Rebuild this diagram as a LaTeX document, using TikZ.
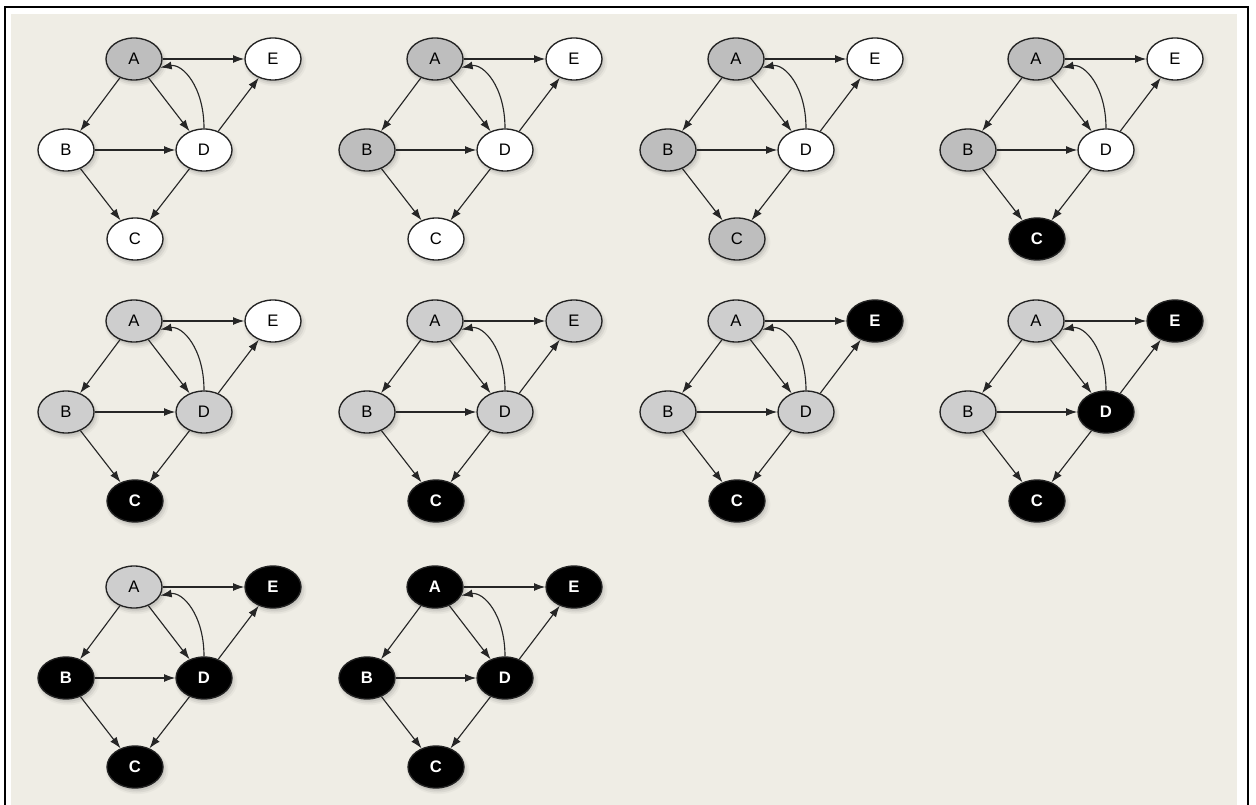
\documentclass[tikz,border=0pt]{standalone}
\usepackage{fontspec}
\setmainfont{Liberation Sans}
\usetikzlibrary{arrows.meta,shadows,shapes.geometric}

\definecolor{paper}{HTML}{EFEDE5}
\definecolor{rim}{HTML}{222222}
\definecolor{greyA}{HTML}{BEBEBE}
\definecolor{greyB}{HTML}{CECECE}

\tikzset{
  vtx/.style={ellipse, draw=rim, line width=1pt, minimum width=42pt,
    minimum height=31.5pt, inner sep=0pt, font=\fontsize{12.5}{14}\selectfont,
    drop shadow={shadow xshift=1.4pt, shadow yshift=-2.4pt, shadow scale=1.12, opacity=.07},
    drop shadow={shadow xshift=1.3pt, shadow yshift=-2.3pt, shadow scale=1.06, opacity=.12},
    drop shadow={shadow xshift=1.1pt, shadow yshift=-2.0pt, opacity=.18}},
  wht/.style={vtx, fill=white},
  gry/.style={vtx, fill=greyA},
  gryl/.style={vtx, fill=greyB},
  blk/.style={vtx, fill=black, text=white, font=\fontsize{12.5}{14}\selectfont\bfseries},
  edge/.style={draw=black!85, line width=0.85pt, -{Latex[length=8.5pt,width=6pt]}}
}

% one copy of the graph: #1 name prefix, (#2,#3) centre of A, #4..#8 styles of A..E
\newcommand\dgraph[8]{%
  \begin{scope}[shift={(#2,#3)}]
    \node[#4] (#1A) at (0,0) {A};
    \node[#5] (#1B) at (-68,91) {B};
    \node[#6] (#1C) at (1,180) {C};
    \node[#7] (#1D) at (70,91) {D};
    \node[#8] (#1E) at (139,0) {E};
    \draw[edge] (#1A) -- (#1E);
    \draw[edge] (#1A) -- (#1B);
    \draw[edge] (#1A) -- (#1D);
    \draw[edge] (#1B) -- (#1D);
    \draw[edge] (#1B) -- (#1C);
    \draw[edge] (#1D) -- (#1C);
    \draw[edge] (#1D) -- (#1E);
    \draw[edge] (#1D.north) .. controls +(0,-42) and +(22,-4) .. (#1A.-18);
  \end{scope}}

\begin{document}
\begin{tikzpicture}[x=0.75pt, y=-0.75pt]
  \useasboundingbox (0,0) rectangle (1256,805);
  \fill[white] (0,0) rectangle (1256,805);
  \fill[paper] (11,14) rectangle (1237,805);
  % frame
  \draw[line width=1.5pt] (4.5,805) -- (4.5,7.5) -- (1247.5,7.5) -- (1247.5,805);

  % first row
  \dgraph{a}{134}{59}{gry}{wht}{wht}{wht}{wht}
  \dgraph{b}{435}{59}{gry}{gry}{wht}{wht}{wht}
  \dgraph{c}{736}{59}{gry}{gry}{gry}{wht}{wht}
  \dgraph{d}{1036}{59}{gry}{gry}{blk}{wht}{wht}
  % second row
  \dgraph{e}{134}{321}{gryl}{gryl}{blk}{gryl}{wht}
  \dgraph{f}{435}{321}{gryl}{gryl}{blk}{gryl}{gryl}
  \dgraph{g}{736}{321}{gryl}{gryl}{blk}{gryl}{blk}
  \dgraph{h}{1036}{321}{gryl}{gryl}{blk}{blk}{blk}
  % third row
  \dgraph{i}{134}{587}{gryl}{blk}{blk}{blk}{blk}
  \dgraph{j}{435}{587}{blk}{blk}{blk}{blk}{blk}
\end{tikzpicture}
\end{document}
